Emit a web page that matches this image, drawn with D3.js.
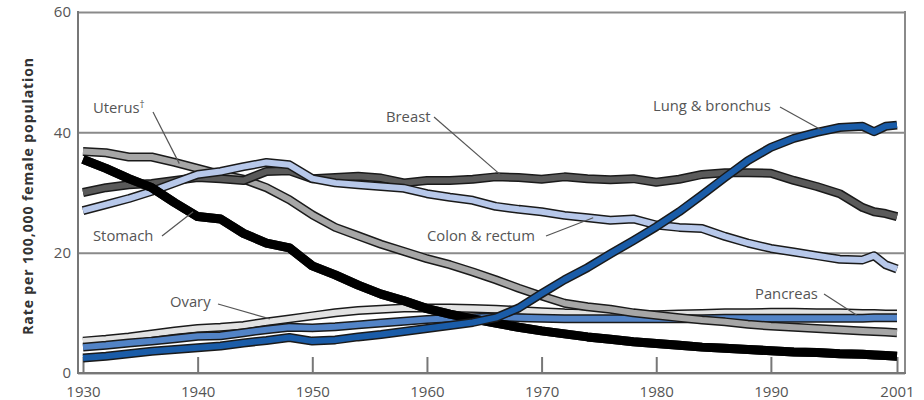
<!DOCTYPE html>
<html>
<head>
<meta charset="utf-8">
<script src="https://cdn.jsdelivr.net/npm/d3@7"></script>
<style>
  body { margin: 0; background: #fff; }
  svg { display: block; font-family: "Open Sans", sans-serif; }
</style>
</head>
<body>
<svg id="chart" width="924" height="400"></svg>
<script>
var years = [1930,1932,1934,1936,1938,1940,1942,1944,1946,1948,1950,1952,1954,1956,1958,1960,1962,1964,1966,1968,1970,1972,1974,1976,1978,1980,1982,1984,1986,1988,1990,1992,1994,1996,1998,1999,2000,2001];

var ovary    = [5.3,5.6,6.0,6.5,7.0,7.4,7.6,7.9,8.5,9.0,9.5,10.0,10.4,10.6,10.8,10.8,10.8,10.7,10.6,10.4,10.2,10.0,9.9,9.8,9.7,9.7,9.8,9.9,10.0,10.0,10.1,10.1,10.0,10.0,9.9,9.9,9.8,9.8];
var pancreas = [4.3,4.6,5.0,5.3,5.7,6.1,6.2,6.7,7.2,7.6,7.5,7.7,8.0,8.3,8.6,8.9,9.1,9.2,9.3,9.2,9.1,9.0,9.0,9.0,9.0,9.0,9.0,9.0,9.1,9.1,9.1,9.1,9.1,9.1,9.1,9.2,9.2,9.2];
var uterus   = [36.8,36.6,35.9,35.9,35.0,34.0,33.0,32.2,30.8,28.8,26.3,24.2,22.8,21.4,20.2,19.0,18.0,16.8,15.5,14.1,12.8,11.6,11.0,10.6,10.0,9.6,9.2,8.8,8.5,8.1,7.8,7.6,7.4,7.2,7.0,6.9,6.8,6.7];
var breast   = [30.0,30.8,31.3,31.5,32.0,32.5,32.3,32.0,33.5,33.6,32.3,32.5,32.7,32.4,31.6,32.0,32.0,32.2,32.6,32.5,32.2,32.6,32.3,32.1,32.3,31.7,32.2,33.0,33.3,33.3,33.2,32.0,31.0,29.8,27.5,26.8,26.5,26.0];
var colon    = [27.0,28.0,29.0,30.2,31.6,33.0,33.5,34.3,35.0,34.6,32.3,31.6,31.3,31.0,30.7,29.8,29.2,28.7,27.7,27.2,26.8,26.2,25.8,25.4,25.6,24.6,24.2,24.0,22.7,21.6,20.7,20.1,19.5,18.9,18.8,19.5,18.0,17.3];
var stomach  = [35.5,34.0,32.3,30.8,28.3,26.0,25.6,23.2,21.6,20.8,17.8,16.3,14.6,13.1,12.0,10.7,9.8,9.0,8.3,7.6,7.0,6.5,6.0,5.6,5.2,4.9,4.6,4.3,4.1,3.9,3.7,3.5,3.4,3.2,3.1,3.0,2.9,2.8];
var lung     = [2.5,2.8,3.2,3.6,3.9,4.2,4.5,5.0,5.4,5.9,5.3,5.5,6.0,6.4,6.9,7.4,7.9,8.4,9.2,10.8,13.2,15.5,17.5,19.8,22.0,24.3,26.8,29.6,32.5,35.3,37.5,39.0,40.0,40.8,41.0,40.1,41.0,41.2];

var yTicks = [0, 20, 40, 60];
var xTicks = [1930, 1940, 1950, 1960, 1970, 1980, 1990, 2001];

var series = [
  { name: "Ovary", values: ovary, color: "#e2e2e2" },
  { name: "Pancreas", values: pancreas, color: "#5283c6" },
  { name: "Uterus", values: uterus, color: "#a6a6a6" },
  { name: "Breast", values: breast, color: "#5a5a5a" },
  { name: "Colon & rectum", values: colon, color: "#b7c8ea" },
  { name: "Stomach", values: stomach, color: "#000000" },
  { name: "Lung & bronchus", values: lung, color: "#1a5ca8" }
];

// label text, label position, leader start (px) and end (year, value)
var labels = [
  { text: "Uterus", sup: "\u2020", lx: 93, ly: 113, from: [153, 112], to: [1938.4, 34.8] },
  { text: "Breast", lx: 386, ly: 122, from: [434, 117], to: [1966.5, 32.8] },
  { text: "Lung & bronchus", lx: 653, ly: 111, from: [780, 107], to: [1994.5, 40.3] },
  { text: "Stomach", lx: 93, ly: 241, from: [162, 236], to: [1939.6, 26.8] },
  { text: "Ovary", lx: 170, ly: 307, from: [218, 304], to: [1946.3, 9.0] },
  { text: "Colon & rectum", lx: 427, ly: 241, from: [546, 236], to: [1974.5, 25.8] },
  { text: "Pancreas", lx: 755, ly: 299, from: [824, 294], to: [1997.5, 9.6] }
];

var svg = d3.select("#chart");
var mLeft = 78, mRight = 905, mTop = 12, mBottom = 373;

var x = d3.scaleLinear().domain([1930, 2001]).range([83, 897]);
var y = d3.scaleLinear().domain([0, 60]).range([mBottom, mTop]);

// gridlines + left labels
var yAxis = svg.append("g")
  .attr("transform", "translate(" + mLeft + ",0)")
  .call(d3.axisLeft(y).tickValues(yTicks).tickSize(-(mRight - mLeft)).tickPadding(7));
yAxis.select(".domain").remove();
yAxis.selectAll("line").attr("stroke", "#8a8a8a").attr("stroke-width", 2);
yAxis.selectAll("text").attr("font-size", 15).attr("fill", "#555").attr("font-family", "Open Sans");

// frame
svg.append("line").attr("x1", mLeft).attr("x2", mLeft).attr("y1", mTop - 1).attr("y2", mBottom + 1)
  .attr("stroke", "#777").attr("stroke-width", 2);
svg.append("line").attr("x1", mRight).attr("x2", mRight).attr("y1", mTop - 1).attr("y2", mBottom + 1)
  .attr("stroke", "#8a8a8a").attr("stroke-width", 2);

// bottom axis, ticks point inward
var xAxis = svg.append("g")
  .attr("transform", "translate(0," + mBottom + ")")
  .call(d3.axisBottom(x).tickValues(xTicks).tickFormat(d3.format("d")).tickSize(-16).tickPadding(6));
xAxis.select(".domain").remove();
xAxis.selectAll("line").attr("stroke", "#777").attr("stroke-width", 2);
xAxis.selectAll("text").attr("font-size", 15).attr("fill", "#555").attr("font-family", "Open Sans").attr("dy", "1.2em");
svg.append("line").attr("x1", mLeft - 1).attr("x2", mRight + 1).attr("y1", mBottom).attr("y2", mBottom)
  .attr("stroke", "#777").attr("stroke-width", 2);

var line = d3.line()
  .x(function (d, i) { return x(years[i]); })
  .y(function (d) { return y(d); });

var lines = svg.append("g");
series.forEach(function (s) {
  var g = lines.append("g");
  g.append("path")
    .attr("d", line(s.values))
    .attr("fill", "none")
    .attr("stroke", "#1a1a1a")
    .attr("stroke-width", 9)
    .attr("stroke-linejoin", "round");
  g.append("path")
    .attr("d", line(s.values))
    .attr("fill", "none")
    .attr("stroke", s.color)
    .attr("stroke-width", s.name == "Stomach" ? 9 : 6)
    .attr("stroke-linejoin", "round");
});

// labels and leader lines
labels.forEach(function (l) {
  svg.append("line")
    .attr("x1", l.from[0]).attr("y1", l.from[1])
    .attr("x2", x(l.to[0])).attr("y2", y(l.to[1]))
    .attr("stroke", "#555").attr("stroke-width", 1.2);
  var t = svg.append("text")
    .attr("x", l.lx).attr("y", l.ly)
    .attr("font-size", 14.8)
    .attr("fill", "#555")
    .text(l.text);
  if (l.sup) {
    t.append("tspan").attr("font-size", 10).attr("dy", -5).text(l.sup);
  }
});

svg.append("text")
  .attr("transform", "translate(33,196) rotate(-90)")
  .attr("text-anchor", "middle")
  .attr("font-size", 14)
  .attr("letter-spacing", 0.9)
  .attr("font-weight", "bold")
  .attr("fill", "#333")
  .text("Rate per 100,000 female population");
</script>
</body>
</html>
